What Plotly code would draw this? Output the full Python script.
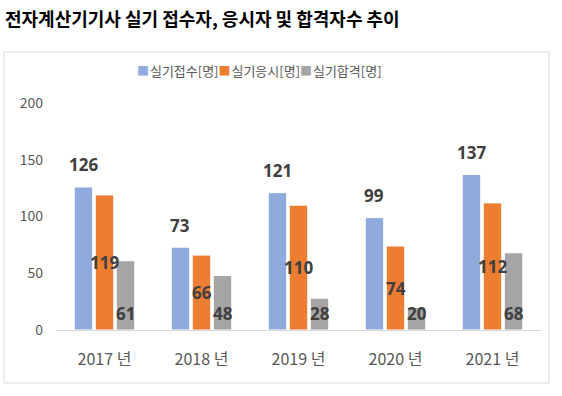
import plotly.graph_objects as go

categories = ["2017 년", "2018 년", "2019 년", "2020 년", "2021 년"]
series_names = ["실기접수[명]", "실기응시[명]", "실기합격[명]"]
applied = [126, 73, 121, 99, 137]
taken = [119, 66, 110, 74, 112]
passed = [61, 48, 28, 20, 68]
colors = ["#8FAADC", "#ED7D31", "#A5A5A5"]
title_text = "전자계산기기사 실기 접수자, 응시자 및 합격자수 추이"
y_ticks = [0, 50, 100, 150, 200]

W, H = 562, 396
L, R, T, B = 56, 21, 103, 66
pw, ph = W - L - R, H - T - B
bargap = 0.35


def px_x(p):
    return (p - L) / pw


def px_y(p):
    return (H - B - p) / ph


fig = go.Figure()
for name, vals, col in zip(series_names, [applied, taken, passed], colors):
    fig.add_trace(go.Bar(
        x=categories, y=vals, name=name,
        marker=dict(color=col, line=dict(color="white", width=1)),
    ))

label_font = dict(family="Open Sans, Noto Sans CJK KR", size=17, color="#404040", weight="bold")
slot = (1 - bargap) / 3
annotations = []
for i in range(len(categories)):
    annotations.append(dict(x=i - slot, y=applied[i], xref="x", yref="y", text=str(applied[i]),
                            showarrow=False, yanchor="middle", yshift=22, font=label_font))
    annotations.append(dict(x=i, y=taken[i] / 2, xref="x", yref="y", text=str(taken[i]),
                            showarrow=False, yanchor="middle", font=label_font))
    annotations.append(dict(x=i + slot, y=0, xref="x", yref="y", text=str(passed[i]),
                            showarrow=False, yanchor="middle", yshift=16.5, font=label_font))

# title
annotations.append(dict(x=px_x(3), y=px_y(18), xref="paper", yref="paper", text=title_text,
                        showarrow=False, xanchor="left", yanchor="middle",
                        font=dict(family="Noto Sans CJK KR", size=18, color="#000000", weight="bold")))

# legend (square swatch + series name)
legend_text = "".join(
    f'<span style="color:{c};font-size:12px">■</span><span style="font-size:4px"> </span>{n}'
    for n, c in zip(series_names, colors)
)
annotations.append(dict(x=px_x(259.5), y=px_y(70), xref="paper", yref="paper", text=legend_text,
                        showarrow=False, xanchor="center", yanchor="middle",
                        font=dict(family="Noto Sans CJK KR", size=13, color="#595959")))

fig.update_layout(
    width=W, height=H,
    margin=dict(l=L, r=R, t=T, b=B, autoexpand=False),
    paper_bgcolor="white", plot_bgcolor="white",
    barmode="group", bargap=bargap, bargroupgap=0.12,
    font=dict(family="Noto Sans CJK KR", color="#595959"),
    showlegend=False,
    xaxis=dict(type="category", showline=True, linecolor="#D9D9D9", linewidth=1, showgrid=False,
               ticks="", tickfont=dict(size=16, color="#595959", family="Noto Sans CJK KR"),
               ticklabelstandoff=15, zeroline=False, fixedrange=True),
    yaxis=dict(range=[0, 200], tickvals=y_ticks, showgrid=False, zeroline=False, showline=False,
               ticks="", tickfont=dict(size=14, color="#595959", family="Noto Sans CJK KR"),
               ticklabelstandoff=12, fixedrange=True),
    annotations=annotations,
    shapes=[dict(type="rect", xref="paper", yref="paper",
                 x0=px_x(4), x1=px_x(549), y0=px_y(383), y1=px_y(52),
                 line=dict(color="#D9D9D9", width=1), fillcolor="rgba(0,0,0,0)", layer="below")],
)

fig.write_html("out.html", config={"displayModeBar": False},
               post_script="document.body.style.margin='0px';document.body.style.overflow='hidden';")
